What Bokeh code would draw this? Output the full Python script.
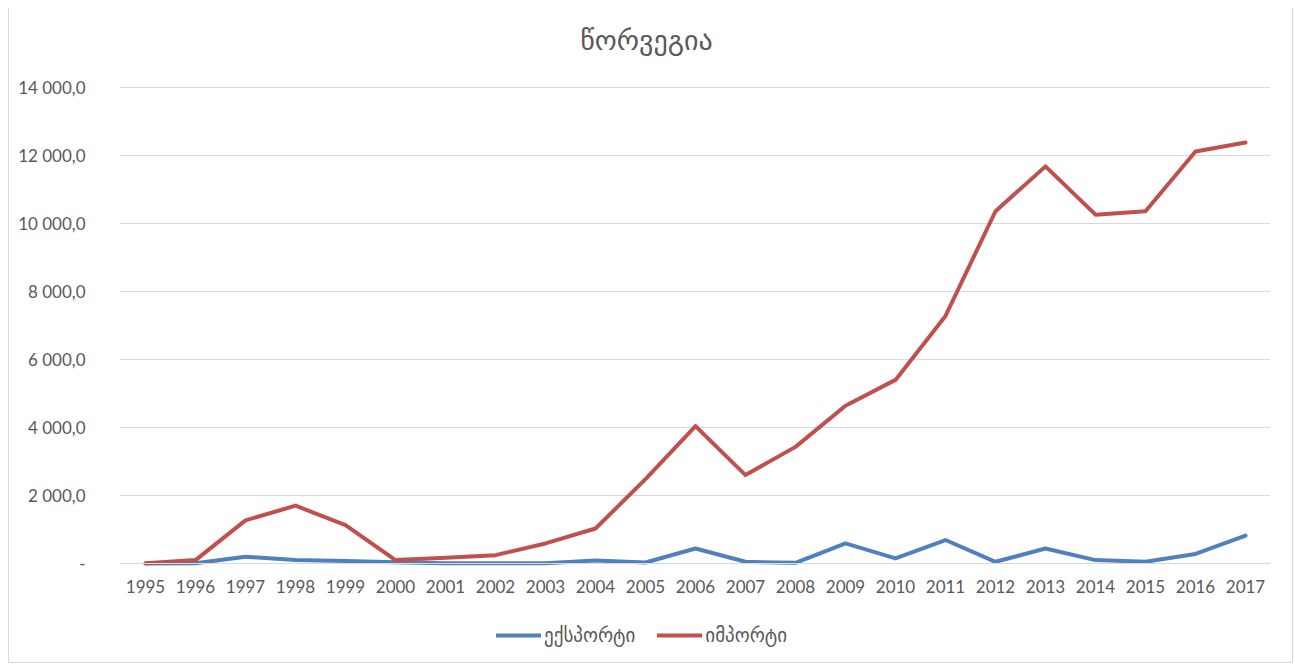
from bokeh.plotting import figure
from bokeh.models import (Range1d, CustomJSTickFormatter, Legend, LegendItem, ColumnDataSource, Label,
                          CategoricalAxis)
from bokeh.embed import file_html
from bokeh.resources import INLINE

years = [str(y) for y in range(1995, 2018)]
export_vals = [0, 10, 200, 100, 70, 40, 10, 10, 10, 90, 30, 440, 50, 20, 590, 150, 690, 50, 440, 100, 50, 280, 820]
import_vals = [10, 100, 1270, 1700, 1130, 100, 170, 245, 590, 1030, 2480, 4040, 2600, 3430, 4640, 5400, 7280,
               10360, 11680, 10260, 10360, 12120, 12380]
title_text = "წორვეგია"
series_names = ["ექსპორტი", "იმპორტი"]
y_ticks = [0, 2000, 4000, 6000, 8000, 10000, 12000, 14000]

src = ColumnDataSource(dict(year=years, exp=export_vals, imp=import_vals))

# frame extends above 14000 and below zero so that title, axis labels and legend sit inside it
p = figure(width=1285, height=655, x_range=years, y_range=Range1d(-2794, 16029),
           output_backend="svg", toolbar_location=None, x_axis_location=None,
           min_border_left=111, min_border_right=24, min_border_top=10, min_border_bottom=5)
p.outline_line_color = None
p.styles = {"margin-left": "8px", "margin-top": "8px",
            "border-left": "1px solid #d9d9d9", "border-right": "1px solid #d9d9d9",
            "border-bottom": "1px solid #d9d9d9"}

r1 = p.line("year", "exp", source=src, line_color="#4F81BD", line_width=4, line_join="round", line_cap="round")
r2 = p.line("year", "imp", source=src, line_color="#C0504D", line_width=4, line_join="round", line_cap="round")

# centre of the category axis (synthetic coordinate len/2), shifted left to the figure centre
title = Label(x=len(years) / 2, y=15382, x_offset=-49, text=title_text, text_align="center",
              text_baseline="middle", text_font="DejaVu Sans", text_font_size="28px", text_color="#595959")
p.add_layout(title, "center")

xa = CategoricalAxis(fixed_location=0)
xa.axis_line_color = "#d9d9d9"
xa.major_tick_line_color = None
xa.minor_tick_line_color = None
xa.major_tick_out = 0
xa.major_label_text_font = "Lato"
xa.major_label_text_font_size = "17px"
xa.major_label_text_color = "#595959"
xa.major_label_standoff = 16
p.add_layout(xa, "below")

p.xgrid.grid_line_color = None
p.ygrid.grid_line_color = "#d9d9d9"
p.ygrid.grid_line_width = 1

p.yaxis.axis_line_color = None
p.yaxis.major_tick_line_color = None
p.yaxis.minor_tick_line_color = None
p.yaxis.ticker = y_ticks
p.yaxis.major_label_text_font = "Lato"
p.yaxis.major_label_text_font_size = "17px"
p.yaxis.major_label_text_color = "#595959"
p.yaxis.major_label_standoff = 29
p.yaxis.formatter = CustomJSTickFormatter(code="""
if (tick == 0) return '-';
var s = Math.round(tick).toString();
s = s.replace(/\\B(?=(\\d{3})+(?!\\d))/g, ' ');
return s + ',0';
""")

legend = Legend(items=[LegendItem(label=series_names[0], renderers=[r1]),
                       LegendItem(label=series_names[1], renderers=[r2])],
                orientation="horizontal", location=(376, 12),
                label_text_font="DejaVu Sans", label_text_font_size="19px", label_text_color="#595959",
                glyph_width=45, label_standoff=3, spacing=22, border_line_color=None,
                background_fill_alpha=0, margin=0, padding=5)
p.add_layout(legend, "center")

open("out.html", "w").write(file_html(p, INLINE))
